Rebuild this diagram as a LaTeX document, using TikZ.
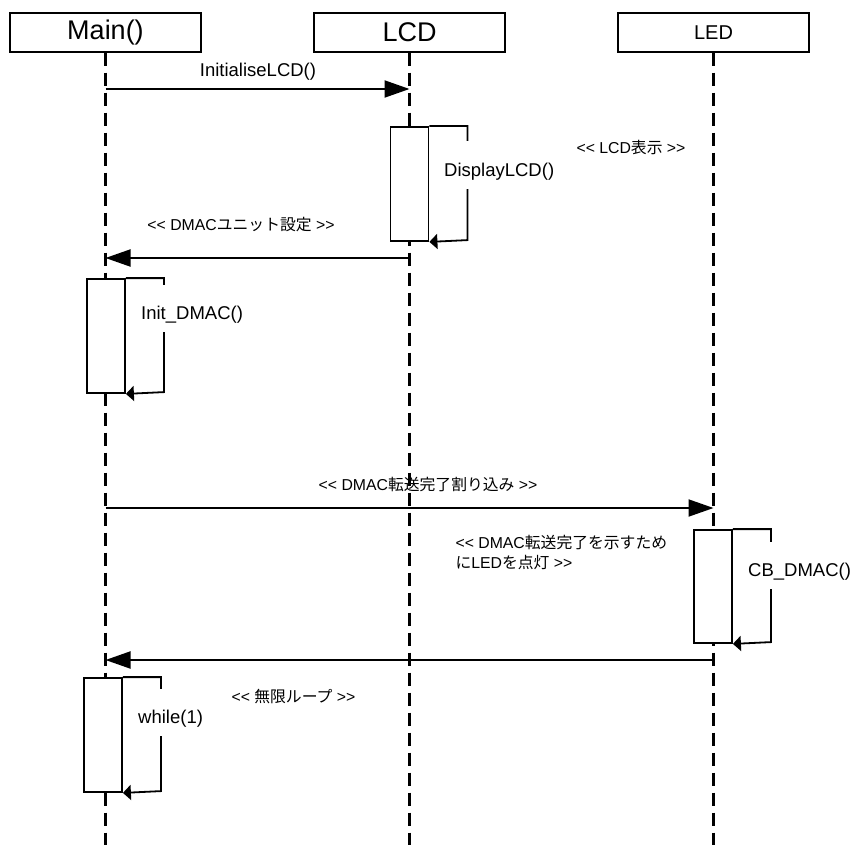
\documentclass[tikz,border=0pt]{standalone}
\usepackage{fontspec}
\setmainfont{Liberation Sans}[Ligatures=TeXOff]
\newfontfamily\jp{Noto Sans CJK JP}
\usetikzlibrary{arrows.meta}

\begin{document}
\begin{tikzpicture}[x=1pt, y=-1pt,
    obj/.style={draw, line width=1.3pt, minimum width=191pt,
                minimum height=39pt, inner sep=0pt},
    life/.style={line width=2.4pt, dash pattern=on 13pt off 7pt},
    act/.style={draw, fill=white, line width=1.8pt, minimum width=38pt,
                minimum height=114pt, inner sep=0pt},
    msg/.style={line width=2pt, -{Triangle[length=25pt, width=17pt]}},
    selfcall/.style={line width=1.8pt, -{Triangle[length=8pt, width=15pt]}},
    callname/.style={fill=white, anchor=base west, inner xsep=1pt, inner ysep=0pt,
                text height=35pt, text depth=12pt,
                font=\fontsize{18.5}{22}\selectfont},
    note/.style={anchor=west, align=left, font=\fontsize{15.8}{20}\selectfont}]
  \useasboundingbox (0,0) rectangle (850,845);
  \node[obj, font=\fontsize{27}{30}\selectfont] (main) at (105.5,32.5) {Main()};
  \node[obj, font=\fontsize{27}{30}\selectfont] (lcd) at (409.5,32.5) {LCD};
  \node[obj, font=\fontsize{20}{24}\selectfont] (led) at (713.5,32.5) {LED};
  \coordinate (mainEnd) at (main.south |- 0,845);
  \coordinate (lcdEnd) at (lcd.south |- 0,845);
  \coordinate (ledEnd) at (led.south |- 0,845);
  \draw[life] (main.south) -- (mainEnd);
  \draw[life] (lcd.south) -- (lcdEnd);
  \draw[life] (led.south) -- (ledEnd);

  \coordinate (initFrom) at (main.south |- 0,89);
  \coordinate (initTo) at (lcd.south |- 0,89);
  \draw[msg] (initFrom) -- (initTo);
  \node[font=\fontsize{18.5}{22}\selectfont] (initLbl) at (258,72) {InitialiseLCD()};

  \node[act] (actLcd) at (409.5,184) {};
  \draw[selfcall] (actLcd.north east) -- ++(38,0) -- ++(0,114) -- (actLcd.south east);
  \node[callname] (dispLbl) at (443,176.5) {DisplayLCD()};
  \node[note] (lcdNote) at (573,147) {<< LCD{\jp 表示} >>};

  \coordinate (unitFrom) at (lcd.south |- 0,258);
  \coordinate (unitTo) at (main.south |- 0,258);
  \draw[msg] (unitFrom) -- (unitTo);
  \node[note, anchor=center] (unitLbl) at (241,225) {<< DMAC{\jp ユニット設定} >>};

  \node[act] (actInit) at (106,336) {};
  \draw[selfcall] (actInit.north east) -- ++(38,0) -- ++(0,114) -- (actInit.south east);
  \node[callname] (initDmacLbl) at (140,319.5) {Init\_DMAC()};

  \coordinate (irqFrom) at (main.south |- 0,508);
  \coordinate (irqTo) at (led.south |- 0,508);
  \draw[msg] (irqFrom) -- (irqTo);
  \node[note, anchor=center] (irqLbl) at (428,485) {<< DMAC{\jp 転送完了割り込み} >>};

  \node[act, minimum height=113pt] (actLed) at (713,586.5) {};
  \draw[selfcall] (actLed.north east) -- ++(38,0) -- ++(0,113) -- (actLed.south east);
  \node[callname] (cbLbl) at (747,576.5) {CB\_DMAC()};
  \node[note] (ledNote) at (452,552)
    {<< DMAC{\jp 転送完了を示すため}\\{\jp に}LED{\jp を点灯} >>};

  \coordinate (backFrom) at (led.south |- 0,660);
  \coordinate (backTo) at (main.south |- 0,660);
  \draw[msg] (backFrom) -- (backTo);

  \node[act] (actLoop) at (103,735) {};
  \draw[selfcall] (actLoop.north east) -- ++(38,0) -- ++(0,114) -- (actLoop.south east);
  \node[callname] (loopLbl) at (137,723.5) {while(1)};
  \node[note] (loopNote) at (228,697) {<< {\jp 無限ループ} >>};
\end{tikzpicture}
\end{document}
